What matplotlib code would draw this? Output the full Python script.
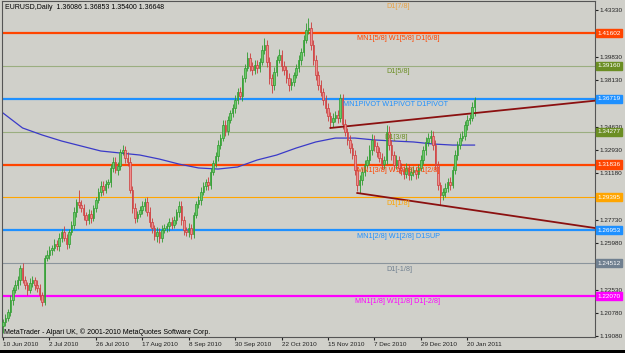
import matplotlib
matplotlib.use("Agg")
import matplotlib.pyplot as plt
from matplotlib.patches import Rectangle

plt.rcParams["font.family"] = ["Liberation Sans", "DejaVu Sans"]

# daily closes EURUSD, one per bar (Sunday bars included, as in the terminal)
closes = [
    1.2014, 1.2044, 1.2088, 1.2177, 1.2251, 1.2289, 1.2326, 1.2415, 1.2326, 1.2289,
    1.2251, 1.2303, 1.2326, 1.2289, 1.2266, 1.2214, 1.2162, 1.2489, 1.2511, 1.2549,
    1.2563, 1.2593, 1.2578, 1.2638, 1.2682, 1.2638, 1.2593, 1.2682, 1.2734, 1.2831,
    1.2905, 1.2883, 1.2860, 1.2809, 1.2771, 1.2816, 1.2786, 1.2860, 1.2920, 1.2979,
    1.3024, 1.2994, 1.3039, 1.3054, 1.3158, 1.3202, 1.3143, 1.3172, 1.3276, 1.3291,
    1.3232, 1.3202, 1.2994, 1.2860, 1.2786, 1.2816, 1.2846, 1.2875, 1.2905, 1.2831,
    1.2757, 1.2712, 1.2653, 1.2682, 1.2638, 1.2697, 1.2712, 1.2727, 1.2757, 1.2734,
    1.2771, 1.2831, 1.2875, 1.2771, 1.2697, 1.2682, 1.2712, 1.2667, 1.2809, 1.2890,
    1.2920, 1.2979, 1.3024, 1.3054, 1.3031, 1.3128, 1.3195, 1.3247, 1.3328, 1.3380,
    1.3477, 1.3432, 1.3514, 1.3566, 1.3603, 1.3663, 1.3722, 1.3692, 1.3826, 1.3900,
    1.3975, 1.3915, 1.3885, 1.3923, 1.3900, 1.3945, 1.4034, 1.4071, 1.3945, 1.3826,
    1.3774, 1.3871, 1.3960, 1.3997, 1.3915, 1.3885, 1.3826, 1.3774, 1.3796, 1.3848,
    1.3900, 1.3960, 1.4019, 1.4108, 1.4183, 1.4197, 1.4071, 1.3960, 1.3848, 1.3774,
    1.3722, 1.3663, 1.3603, 1.3544, 1.3499, 1.3529, 1.3551, 1.3529, 1.3680, 1.3484,
    1.3425, 1.3366, 1.3306, 1.3254, 1.3143, 1.3031, 1.3068, 1.3128, 1.3180, 1.3217,
    1.3291, 1.3366, 1.3321, 1.3276, 1.3232, 1.3187, 1.3217, 1.3425, 1.3328, 1.3254,
    1.3180, 1.3217, 1.3158, 1.3143, 1.3113, 1.3158, 1.3106, 1.3128, 1.3143, 1.3113,
    1.3158, 1.3217, 1.3291, 1.3351, 1.3380, 1.3395, 1.3328, 1.3180, 1.3031, 1.2957,
    1.2979, 1.3009, 1.3054, 1.3031, 1.3143, 1.3254, 1.3328, 1.3380, 1.3395, 1.3477,
    1.3514, 1.3529, 1.3609, 1.3665,
]
first_open = 1.1985

# wicks in pips above / below the body
upper_wick = [
    25, 30, 20, 35, 25, 40, 30, 20, 40, 30,
    25, 35, 30, 20, 40, 30, 25, 20, 35, 30,
    25, 40, 30, 35, 20, 45, 30, 25, 30, 35,
    20, 90, 40, 30, 25, 35, 30, 20, 25, 30,
    40, 35, 30, 25, 30, 35, 40, 30, 25, 40,
    30, 45, 35, 30, 40, 25, 30, 35, 30, 40,
    35, 30, 25, 40, 30, 35, 30, 25, 30, 35,
    30, 25, 40, 35, 30, 25, 35, 30, 20, 25,
    30, 35, 30, 25, 35, 30, 25, 30, 35, 30,
    40, 35, 30, 25, 30, 35, 30, 40, 25, 30,
    45, 35, 30, 40, 35, 30, 40, 52, 35, 40,
    30, 35, 30, 45, 40, 35, 30, 35, 30, 25,
    30, 35, 30, 40, 50, 75, 45, 40, 35, 30,
    35, 30, 40, 35, 30, 35, 30, 35, 25, 30,
    35, 30, 35, 40, 35, 30, 40, 30, 35, 30,
    40, 45, 35, 30, 35, 40, 30, 50, 45, 35,
    30, 35, 30, 35, 30, 40, 30, 35, 30, 25,
    30, 35, 30, 40, 35, 45, 40, 35, 30, 25,
    30, 35, 30, 40, 30, 35, 30, 40, 35, 30,
    35, 30, 40, 20,
]
lower_wick = [
    50, 30, 25, 30, 35, 25, 30, 40, 20, 30,
    35, 25, 30, 40, 30, 35, 30, 25, 20, 30,
    35, 25, 30, 40, 30, 25, 35, 30, 25, 30,
    35, 25, 30, 35, 40, 30, 35, 25, 30, 25,
    30, 35, 25, 30, 35, 30, 25, 35, 30, 25,
    35, 30, 25, 40, 35, 30, 25, 30, 35, 30,
    40, 35, 30, 45, 35, 30, 25, 30, 35, 30,
    25, 30, 35, 40, 35, 30, 35, 40, 30, 25,
    30, 35, 25, 30, 35, 30, 25, 30, 35, 30,
    25, 35, 30, 25, 30, 35, 30, 25, 35, 30,
    25, 40, 35, 30, 35, 30, 25, 30, 40, 45,
    60, 35, 30, 25, 40, 35, 40, 45, 35, 30,
    25, 30, 35, 30, 25, 30, 40, 35, 40, 35,
    30, 35, 40, 35, 45, 35, 30, 35, 30, 35,
    30, 40, 35, 30, 40, 45, 60, 35, 30, 25,
    30, 35, 40, 35, 30, 40, 35, 30, 35, 40,
    35, 30, 40, 35, 40, 30, 40, 35, 30, 35,
    30, 25, 30, 35, 30, 35, 40, 35, 40, 75,
    40, 35, 30, 35, 25, 30, 35, 30, 25, 30,
    35, 30, 25, 63,
]

# moving average, read every 8 bars
ma_bars = [0, 8, 16, 24, 32, 40, 48, 56, 64, 72, 80, 88, 96, 104, 112,
           120, 128, 136, 144, 152, 160, 168, 176, 184, 193]
ma_values = [1.3566, 1.3455, 1.3403, 1.3358, 1.3321, 1.3284, 1.3269, 1.3254,
             1.3224, 1.3187, 1.3158, 1.3150, 1.3165, 1.3217, 1.3254, 1.3306,
             1.3351, 1.3380, 1.3380, 1.3366, 1.3358, 1.3351, 1.3336, 1.3328, 1.3328]

# channel trend lines
upper_trend_bars = [134, 243]
upper_trend_prices = [1.3455, 1.3659]
lower_trend_bars = [145, 243]
lower_trend_prices = [1.2972, 1.2710]

# Murrey levels
levels = [1.44043, 1.41602, 1.39160, 1.36719, 1.34277, 1.31836, 1.29395, 1.26953, 1.24512, 1.22070]
level_names = ["D1[7/8]", "MN1[5/8] W1[5/8] D1[6/8]", "D1[5/8]", "MN1PIVOT W1PIVOT D1PIVOT",
               "D1[3/8]", "MN1[3/8] W1[3/8] D1[2/8]", "D1[1/8]", "MN1[2/8] W1[2/8] D1SUP",
               "D1[-1/8]", "MN1[1/8] W1[1/8] D1[-2/8]"]
level_colors = ["#E8A040", "#FF4500", "#6B8E23", "#1E90FF", "#6B8E23",
                "#FF4500", "#FFA500", "#1E90FF", "#708090", "#FF00FF"]
line_colors = ["#E8A040", "#FF4500", "#9AAE80", "#1E90FF", "#9AAE80",
               "#FF4500", "#FFA500", "#1E90FF", "#8A949C", "#FF00FF"]
level_thick = [False, True, False, True, False, True, False, True, False, True]
label_bars = [157, 145, 157, 139, 156, 145, 157, 145, 157, 144]

date_bars = [0, 19, 38, 57, 76, 95, 114, 133, 152, 171, 190]
date_labels = ["10 Jun 2010", "2 Jul 2010", "26 Jul 2010", "17 Aug 2010", "8 Sep 2010",
               "30 Sep 2010", "22 Oct 2010", "15 Nov 2010", "7 Dec 2010", "29 Dec 2010",
               "20 Jan 2011"]
price_ticks = [1.43330, 1.41580, 1.39830, 1.38130, 1.36380, 1.34630, 1.32930, 1.31180,
               1.29480, 1.27730, 1.25980, 1.24280, 1.22530, 1.20780, 1.19080]
# tick labels that sit under a level box in the terminal
hidden_ticks = [1.41580, 1.36380, 1.29480, 1.24280]

header = "EURUSD,Daily  1.36086 1.36853 1.35400 1.36648"
footer = "MetaTrader - Alpari UK, \u00a9 2001-2010 MetaQuotes Software Corp."

bg = "#D0D0CA"
fig = plt.figure(figsize=(6.25, 3.53), dpi=100, facecolor=bg)
ax = fig.add_axes([2 / 625, 1 - 337 / 353, 593 / 625, 336 / 353], facecolor=bg)
fig.patches.append(Rectangle((0, 0), 1, 3 / 353, transform=fig.transFigure,
                             facecolor="black", edgecolor="none"))

ax.set_xlim(-0.41, 242.3)
ax.set_ylim(1.19025, 1.4398)

# levels
for lev, name, col, lcol, thick, lb in zip(levels, level_names, level_colors, line_colors,
                                           level_thick, label_bars):
    ax.axhline(lev, color=lcol, lw=1.6 if thick else 0.8, zorder=1)
    ax.text(lb, lev - 0.0018, name, color=col, fontsize=5.2, va="top", ha="left", zorder=5)
    if lev < 1.4398:
        ax.text(1.004, lev, f"{lev:.5f}", transform=ax.get_yaxis_transform(),
                color="white", fontsize=4.6, va="center", ha="left", zorder=6, clip_on=False,
                bbox=dict(boxstyle="square,pad=0.25", facecolor=col, edgecolor=col))

# moving average
ax.plot(ma_bars, ma_values, color="#3A3AC8", lw=0.9, zorder=2)

# candles
opens = [first_open] + closes[:-1]
for i, (o, c, up, lo) in enumerate(zip(opens, closes, upper_wick, lower_wick)):
    top = max(o, c)
    bot = min(o, c)
    bull = c >= o
    edge = "#2E9A2E" if bull else "#CC3A3A"
    fill = "#6CCB6C" if bull else "#EE9090"
    ax.vlines(i, bot - lo * 0.0001, top + up * 0.0001, color=edge, lw=0.6, zorder=3)
    ax.add_patch(Rectangle((i - 0.32, bot), 0.64, max(top - bot, 0.0003),
                           facecolor=fill, edgecolor=edge, lw=0.5, zorder=4))

# channel lines
ax.plot(upper_trend_bars, upper_trend_prices, color="#8B1010", lw=1.3, zorder=3)
ax.plot(lower_trend_bars, lower_trend_prices, color="#8B1010", lw=1.3, zorder=3)

# axes styling
for side in ["left", "right", "top", "bottom"]:
    ax.spines[side].set_color("#555555")
    ax.spines[side].set_linewidth(0.8)
ax.yaxis.tick_right()
ax.set_yticks(price_ticks)
ax.set_yticklabels(["" if p in hidden_ticks else f"{p:.5f}" for p in price_ticks])
ax.tick_params(axis="y", labelsize=4.6, length=2, pad=1.5, colors="#222222")
ax.set_xticks(date_bars)
ax.set_xticklabels(date_labels)
ax.tick_params(axis="x", labelsize=4.6, length=2, pad=1.5, colors="#222222")
for lbl in ax.get_xticklabels():
    lbl.set_ha("left")

ax.text(0.005, 0.992, header, transform=ax.transAxes, fontsize=5, va="top", ha="left", color="black")
ax.text(0.003, 0.004, footer, transform=ax.transAxes, fontsize=5, va="bottom", ha="left", color="black")

fig.savefig("out.png", dpi=100, facecolor=bg)
